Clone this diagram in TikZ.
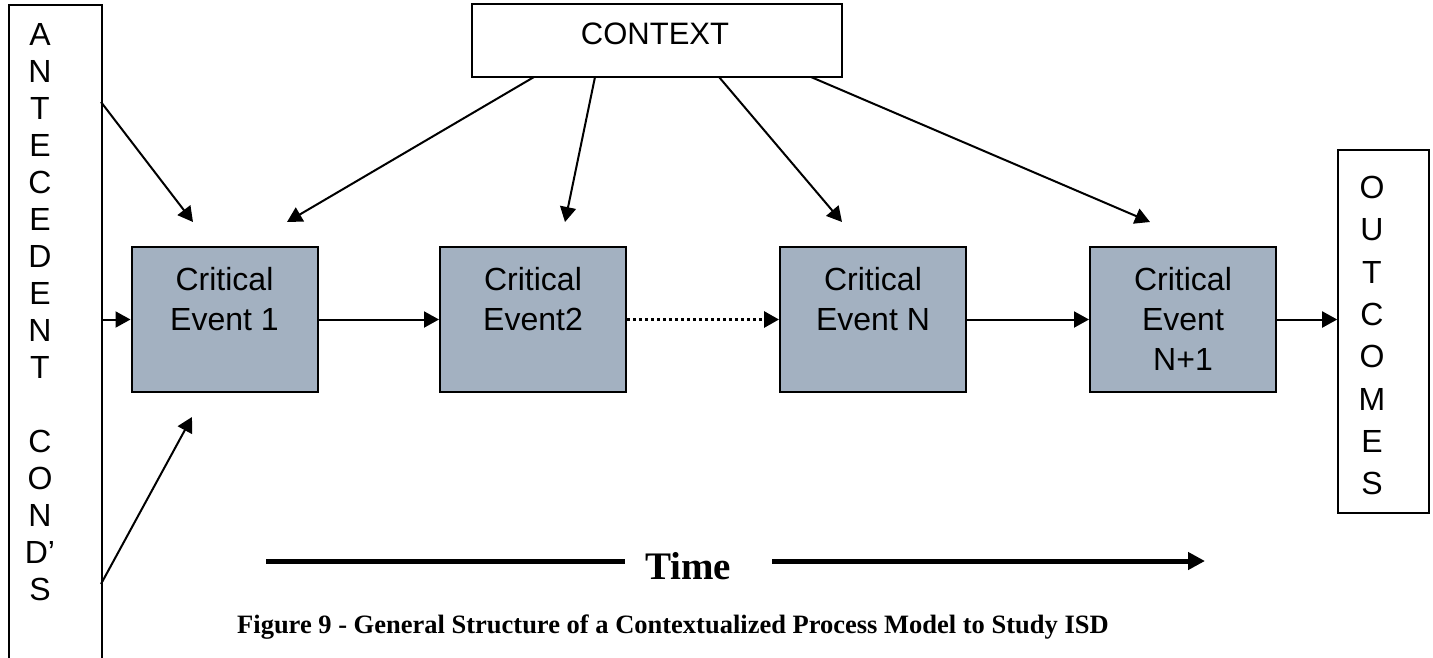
\documentclass[tikz,border=0pt]{standalone}
\usepackage{fontspec}
\setmainfont{Liberation Sans}
\newfontfamily\capfont{Liberation Serif}
\usetikzlibrary{arrows.meta,calc}
\definecolor{evfill}{RGB}{163,177,193}

\begin{document}
\begin{tikzpicture}[x=1pt,y=-1pt,
  frame/.style={draw=black, line width=1.6pt, fill=white, inner sep=0pt},
  evbox/.style={draw=black, line width=2pt, fill=evfill, minimum width=186pt, minimum height=145pt, inner sep=0pt},
  evtext/.style={font=\fontsize{32}{40}\selectfont, align=center, inner sep=0pt, anchor=north},
  letter/.style={font=\fontsize{32}{37}\selectfont, inner sep=0pt, text height=23pt, text depth=0pt},
  link/.style={line width=2pt, -{Triangle[length=15pt,width=16pt]}},
  dotlink/.style={line width=3pt, dash pattern=on 3pt off 3pt, -{Triangle[length=15pt,width=16pt]}},
  timeline/.style={line width=5pt},
]
\useasboundingbox (0,0) rectangle (1433,657);
\fill[white] (0,0) rectangle (1433,657);

% antecedent conditions column (runs off the bottom edge)
\node[frame, minimum width=93pt, minimum height=700pt, anchor=north west] (ante) at (8,4) {};
\foreach \ch/\k in {A/0,N/1,T/2,E/3,C/4,E/5,D/6,E/7,N/8,T/9,C/11,O/12,N/13,D’/14,S/15}
  \node[letter] (ant\k) at (40,{34+37*\k}) {\ch};

% context box
\node[frame, minimum width=370pt, minimum height=73pt] (ctx) at (657,40.5) {};
\node[font=\fontsize{31}{37}\selectfont, inner sep=0pt, text height=22pt, text depth=0pt] (ctxlabel) at (655,33) {CONTEXT};

% outcomes column
\node[frame, minimum width=91pt, minimum height=363pt] (out) at (1383.5,331.5) {};
\foreach \ch/\k in {O/0,U/1,T/2,C/3,O/4,M/5,E/6,S/7}
  \node[letter] (outl\k) at (1372,{187+42.3*\k}) {\ch};

% critical events
\node[evbox] (e1) at (224.5,319.5) {};
\node[evbox] (e2) at (533,319.5) {};
\node[evbox] (eN) at (873,319.5) {};
\node[evbox] (eM) at (1183,319.5) {};
\node[evtext] (t1) at ($(e1.north)+(0,21.5)$) {Critical\\Event 1};
\node[evtext] (t2) at ($(e2.north)+(0,21.5)$) {Critical\\Event2};
\node[evtext] (tN) at ($(eN.north)+(0,21.5)$) {Critical\\Event N};
\node[evtext] (tM) at ($(eM.north)+(0,21.5)$) {Critical\\Event\\N+1};

% free ends of the slanted connectors
\coordinate (a1) at (101,102);
\coordinate (a2) at (101,584);
\coordinate (h1) at (193,222);
\coordinate (h2) at (192,417);
\coordinate (c1) at (534,77);
\coordinate (c2) at (595,77);
\coordinate (c3) at (719,77);
\coordinate (c4) at (811,77);
\coordinate (k1) at (287,222);
\coordinate (k2) at (565,222);
\coordinate (k3) at (842,222);
\coordinate (k4) at (1150,222);

% antecedents into the first event
\draw[link] (a1) -- (h1);
\draw[link] (ante.east |- e1) -- (e1.west);
\draw[link] (a2) -- (h2);

% context influences
\draw[link] (c1) -- (k1);
\draw[link] (c2) -- (k2);
\draw[link] (c3) -- (k3);
\draw[link] (c4) -- (k4);

% event sequence
\draw[link] (e1.east) -- (e2.west);
\draw[dotlink] (e2.east) -- (eN.west);
\draw[link] (eN.east) -- (eM.west);
\draw[link] (eM.east) -- (eM.east -| out.west);

% time axis
\node[font=\capfont\bfseries\fontsize{39}{44}\selectfont, inner sep=0pt, anchor=base west] (time) at (645,579) {Time};
\coordinate (tl) at (266,561);
\coordinate (tm1) at (625,561);
\coordinate (tm2) at (772,561);
\coordinate (tr) at (1205,561);
\draw[timeline] (tl) -- (tm1);
\draw[timeline, -{Triangle[length=17pt,width=17pt]}] (tm2) -- (tr);

% caption
\node[font=\capfont\bfseries\fontsize{26.5}{30}\selectfont, inner sep=0pt, anchor=base west] (caption) at (237,633)
  {Figure 9 - General Structure of a Contextualized Process Model to Study ISD};
\end{tikzpicture}
\end{document}
